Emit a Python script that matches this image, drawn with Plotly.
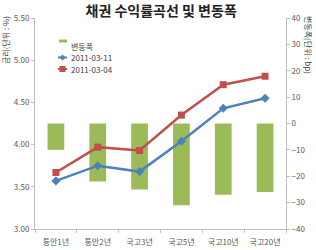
import plotly.graph_objects as go

categories = ["통안1년", "통안2년", "국고3년", "국고5년", "국고10년", "국고20년"]
change_bp = [-10, -22, -25, -31, -27, -26]
yield_0311 = [3.57, 3.75, 3.68, 4.04, 4.43, 4.55]
yield_0304 = [3.67, 3.97, 3.93, 4.35, 4.71, 4.81]
left_ticks = [3.00, 3.50, 4.00, 4.50, 5.00, 5.50]
right_ticks = [-40, -30, -20, -10, 0, 10, 20, 30, 40]
series_names = ["변동폭", "2011-03-11", "2011-03-04"]
colors = ["#9BBB59", "#4F81BD", "#C0504D"]

FONT = "Noto Sans CJK KR"
W, H = 316, 250
L, R, T, B = 35, 30, 18, 21
PW, PH = W - L - R, H - T - B


def px(x):
    return (x - L) / PW


def py(y):
    return (H - B - y) / PH


fig = go.Figure()
fig.add_trace(go.Bar(x=categories, y=change_bp, name=series_names[0], yaxis="y",
                     marker=dict(color=colors[0], line=dict(width=0)), width=0.4))
fig.add_trace(go.Scatter(x=categories, y=yield_0311, name=series_names[1], yaxis="y2",
                         mode="lines+markers", line=dict(color=colors[1], width=2.5),
                         marker=dict(symbol="diamond", size=7, color=colors[1])))
fig.add_trace(go.Scatter(x=categories, y=yield_0304, name=series_names[2], yaxis="y2",
                         mode="lines+markers", line=dict(color=colors[2], width=2.5),
                         marker=dict(symbol="square", size=7, color=colors[2])))

# custom compact legend (Excel-like)
shapes = []
annotations = []
lx0, lx1, ltx = 58, 67, 69
rows = [46, 57.5, 69]
shapes.append(dict(type="rect", xref="paper", yref="paper", x0=px(59), x1=px(67),
                   y0=py(42.5), y1=py(39.5), fillcolor=colors[0], line=dict(width=0)))
for i, yy in enumerate(rows[1:], start=1):
    shapes.append(dict(type="line", xref="paper", yref="paper", x0=px(lx0), x1=px(lx1),
                       y0=py(yy), y1=py(yy), line=dict(color=colors[i], width=2)))
cx = (lx0 + lx1) / 2
yy = rows[1]
shapes.append(dict(type="path", xref="paper", yref="paper",
                   path=f"M {px(cx-3)},{py(yy)} L {px(cx)},{py(yy-3)} L {px(cx+3)},{py(yy)} L {px(cx)},{py(yy+3)} Z",
                   fillcolor=colors[1], line=dict(width=0)))
yy = rows[2]
shapes.append(dict(type="rect", xref="paper", yref="paper", x0=px(cx-3), x1=px(cx+3),
                   y0=py(yy+3), y1=py(yy-3), fillcolor=colors[2], line=dict(width=0)))
for name, yy in zip(series_names, rows):
    annotations.append(dict(text=name, xref="paper", yref="paper", x=px(ltx), y=py(yy),
                            xanchor="left", yanchor="middle", showarrow=False,
                            font=dict(size=8, color="#404040", family=FONT)))

annotations += [
    dict(text="금리(단위 : %)", xref="paper", yref="paper", x=px(5), y=py(14),
         xanchor="center", yanchor="top", textangle=-90, showarrow=False,
         font=dict(size=8, color="#404040", family=FONT)),
    dict(text="변동폭(단위 : bp)", xref="paper", yref="paper", x=px(309), y=py(14),
         xanchor="center", yanchor="top", textangle=90, showarrow=False,
         font=dict(size=8, color="#404040", family=FONT)),
]

axis_common = dict(showgrid=False, zeroline=False, showline=True, linecolor="#BFBFBF",
                   linewidth=1, ticks="outside", ticklen=3, tickcolor="#BFBFBF",
                   automargin=False,
                   tickfont=dict(size=8, color="#595959", family=FONT))
fig.update_layout(
    width=W, height=H,
    margin=dict(l=L, r=R, t=T, b=B),
    paper_bgcolor="white", plot_bgcolor="white",
    font=dict(family=FONT, size=8, color="#595959"),
    title=dict(text="<b>채권 수익률곡선 및 변동폭</b>", x=0.51, xanchor="center",
               y=0.956, yanchor="middle", font=dict(size=14, color="#222", family=FONT)),
    xaxis=dict(**axis_common, tickson="boundaries", ticklabelstandoff=5),
    yaxis=dict(**axis_common, side="right", range=[-40, 40], tickvals=right_ticks),
    yaxis2=dict(**axis_common, side="left", overlaying="y", range=[3.0, 5.5],
                tickvals=left_ticks, tickformat=".2f"),
    showlegend=False,
    shapes=shapes,
    annotations=annotations,
)
fig.write_html("out.html")
